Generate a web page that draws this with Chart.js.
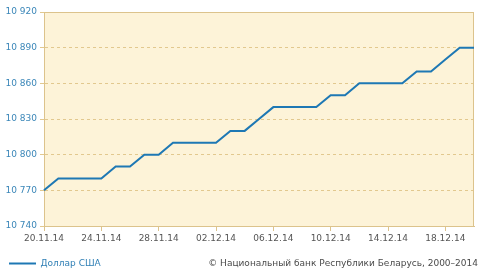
<!DOCTYPE html>
<html>
  <head>
    <style>
      body { margin: 0; background: #fff; }
      #wrap { position: relative; width: 488px; height: 278px; }
      #copy {
        position: absolute; right: 10px; top: 258px;
        font-family: "DejaVu Sans", sans-serif; font-size: 9px; color: #4a4a4a;
        white-space: nowrap;
      }
    </style>
  </head>
  <body>
    <div id="wrap">
      <canvas id="chart" width="488" height="278"></canvas>
      <div id="copy">© Национальный банк Республики Беларусь, 2000–2014</div>
    </div>
    <script src="https://cdn.jsdelivr.net/npm/chart.js"></script>
    <script>
      const dates = [
        "20.11.14", "21.11.14", "22.11.14", "23.11.14", "24.11.14", "25.11.14", "26.11.14", "27.11.14",
        "28.11.14", "29.11.14", "30.11.14", "01.12.14", "02.12.14", "03.12.14", "04.12.14", "05.12.14",
        "06.12.14", "07.12.14", "08.12.14", "09.12.14", "10.12.14", "11.12.14", "12.12.14", "13.12.14",
        "14.12.14", "15.12.14", "16.12.14", "17.12.14", "18.12.14", "19.12.14", "20.12.14"
      ];
      const usdRate = [
        10770, 10780, 10780, 10780, 10780, 10790, 10790, 10800,
        10800, 10810, 10810, 10810, 10810, 10820, 10820, 10830,
        10840, 10840, 10840, 10840, 10850, 10850, 10860, 10860,
        10860, 10860, 10870, 10870, 10880, 10890, 10890
      ];
      const seriesName = "Доллар США";
      const yMin = 10740, yMax = 10920, yStep = 30;

      const tan = "#dcc38c";
      const font = { family: "DejaVu Sans", size: 9 };

      // cream plot background + solid frame
      const plotFrame = {
        id: "plotFrame",
        beforeDraw(chart) {
          const a = chart.chartArea, ctx = chart.ctx;
          ctx.save();
          ctx.fillStyle = "#fdf3d8";
          ctx.fillRect(a.left, a.top, a.right - a.left, a.bottom - a.top);
          ctx.restore();
        },
        beforeDatasetsDraw(chart) {
          const a = chart.chartArea, ctx = chart.ctx;
          ctx.save();
          ctx.strokeStyle = tan;
          ctx.lineWidth = 1;
          ctx.strokeRect(a.left + 0.5, a.top + 0.5, a.right - a.left - 1, a.bottom - a.top);
          ctx.restore();
        }
      };

      new Chart(document.getElementById("chart"), {
        type: "line",
        data: {
          labels: dates,
          datasets: [{
            label: seriesName,
            data: usdRate,
            borderColor: "#1e78b4",
            backgroundColor: "#1e78b4",
            borderWidth: 2,
            pointRadius: 0,
            pointStyle: "line",
            tension: 0
          }]
        },
        options: {
          responsive: false,
          animation: false,
          devicePixelRatio: 1,
          layout: { padding: { top: 12, right: 14, left: 0, bottom: 0 } },
          plugins: {
            tooltip: { enabled: false },
            legend: {
              position: "bottom",
              align: "start",
              labels: {
                usePointStyle: true,
                pointStyleWidth: 27,
                boxHeight: 9,
                color: "#2f7fb5",
                font: font,
                padding: 9
              }
            }
          },
          scales: {
            x: {
              offset: false,
              afterFit(scale) { scale.height = 24; },
              grid: { display: true, drawOnChartArea: false, drawTicks: true, tickLength: 5, color: tan },
              border: { display: true, color: tan },
              ticks: {
                autoSkip: false,
                maxRotation: 0,
                color: "#555",
                font: font,
                padding: 2,
                callback: function (value, index) {
                  return index % 4 === 0 ? dates[index] : null;
                }
              }
            },
            y: {
              min: yMin,
              max: yMax,
              afterFit(scale) { scale.width = 44; },
              grid: { color: "#e2c88e", tickLength: 4, drawTicks: true },
              border: { display: true, color: tan, dash: [3, 3] },
              ticks: {
                stepSize: yStep,
                color: "#3a86b8",
                font: font,
                padding: 3,
                callback: function (value) {
                  return String(value).replace(/\B(?=(\d{3})+(?!\d))/g, " ");
                }
              }
            }
          }
        },
        plugins: [plotFrame]
      });
    </script>
  </body>
</html>
